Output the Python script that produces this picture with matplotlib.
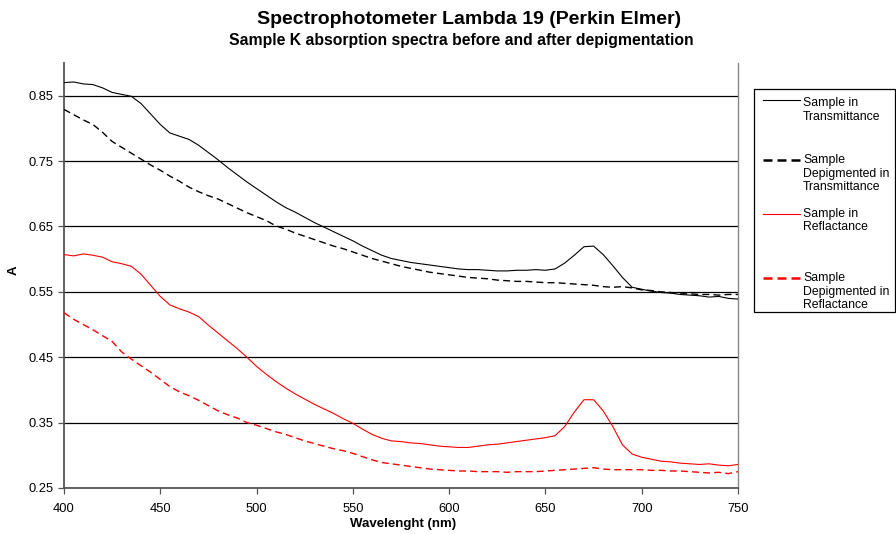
"""
Spectrophotometer Lambda 19 - spectra of sample K before/after depigmentation.
"""
import numpy as np
import matplotlib.pyplot as plt
from matplotlib.lines import Line2D
from matplotlib.patches import Rectangle

plt.rcParams['font.family'] = ['Liberation Sans', 'DejaVu Sans']

# wavelengths, every 5 nm
wl = list(range(400, 755, 5))

trans = [0.870, 0.871, 0.868, 0.867, 0.862, 0.855, 0.852, 0.849, 0.838, 0.822,
         0.806, 0.793, 0.788, 0.783, 0.774, 0.763, 0.752, 0.740, 0.729, 0.718,
         0.708, 0.698, 0.688, 0.679, 0.672, 0.664, 0.656, 0.649, 0.642, 0.635,
         0.628, 0.620, 0.613, 0.606, 0.601, 0.598, 0.595, 0.593, 0.591, 0.589,
         0.587, 0.585, 0.584, 0.584, 0.583, 0.582, 0.582, 0.583, 0.583, 0.584,
         0.583, 0.585, 0.594, 0.606, 0.619, 0.620, 0.607, 0.590, 0.572, 0.557,
         0.554, 0.551, 0.549, 0.548, 0.546, 0.545, 0.544, 0.542, 0.543, 0.540,
         0.539]

trans_depig = [0.829, 0.821, 0.813, 0.806, 0.794, 0.780, 0.771, 0.762, 0.753, 0.744,
               0.736, 0.727, 0.719, 0.710, 0.703, 0.697, 0.692, 0.685, 0.678, 0.671,
               0.665, 0.659, 0.651, 0.646, 0.640, 0.635, 0.630, 0.625, 0.620, 0.616,
               0.611, 0.606, 0.601, 0.597, 0.593, 0.589, 0.586, 0.583, 0.580, 0.578,
               0.576, 0.574, 0.572, 0.571, 0.570, 0.568, 0.567, 0.566, 0.566, 0.565,
               0.564, 0.564, 0.563, 0.562, 0.561, 0.560, 0.558, 0.557, 0.558, 0.556,
               0.553, 0.552, 0.550, 0.549, 0.547, 0.547, 0.546, 0.546, 0.545, 0.546,
               0.546]

refl = [0.607, 0.605, 0.608, 0.606, 0.603, 0.596, 0.593, 0.589, 0.577, 0.560,
        0.543, 0.530, 0.524, 0.519, 0.512, 0.499, 0.487, 0.475, 0.463, 0.450,
        0.436, 0.424, 0.413, 0.403, 0.394, 0.386, 0.378, 0.371, 0.364, 0.356,
        0.349, 0.340, 0.332, 0.326, 0.322, 0.321, 0.319, 0.318, 0.316, 0.314,
        0.313, 0.312, 0.312, 0.314, 0.316, 0.317, 0.319, 0.321, 0.323, 0.325,
        0.327, 0.330, 0.344, 0.366, 0.385, 0.385, 0.368, 0.344, 0.316, 0.302,
        0.297, 0.294, 0.291, 0.290, 0.288, 0.287, 0.286, 0.287, 0.285, 0.284,
        0.286]

refl_depig = [0.518, 0.508, 0.500, 0.492, 0.483, 0.474, 0.458, 0.447, 0.437, 0.427,
              0.416, 0.405, 0.397, 0.391, 0.384, 0.376, 0.368, 0.362, 0.357, 0.350,
              0.346, 0.341, 0.336, 0.332, 0.327, 0.322, 0.318, 0.314, 0.310, 0.307,
              0.303, 0.298, 0.293, 0.289, 0.287, 0.285, 0.283, 0.281, 0.279, 0.278,
              0.277, 0.276, 0.276, 0.275, 0.275, 0.275, 0.274, 0.275, 0.275, 0.275,
              0.276, 0.277, 0.278, 0.279, 0.280, 0.281, 0.279, 0.278, 0.278, 0.278,
              0.278, 0.277, 0.277, 0.276, 0.276, 0.275, 0.274, 0.273, 0.274, 0.272,
              0.275]

labels = ['Sample in\nTransmittance',
          'Sample\nDepigmented in\nTransmittance',
          'Sample in\nReflactance',
          'Sample\nDepigmented in\nReflactance']

yticks = [0.25, 0.35, 0.45, 0.55, 0.65, 0.75, 0.85]

W, H = 896, 534
fig = plt.figure(figsize=(W/100, H/100), dpi=100)
ax = fig.add_axes([64/W, 1-488/H, (738-64)/W, (488-63)/H])

for y in yticks[1:]:
    ax.axhline(y, color='black', lw=0.9, zorder=1)

dash = (0, (5, 3))
styles = [dict(color='black', lw=0.8, ls='-'),
          dict(color='black', lw=1.0, ls=dash),
          dict(color='red', lw=0.8, ls='-'),
          dict(color='red', lw=1.0, ls=dash)]
series = [trans, trans_depig, refl, refl_depig]
for vals, st, lab in zip(series, styles, labels):
    ax.plot(wl, vals, label=lab, zorder=3, **st)

ax.set_xlim(400, 750)
ax.set_ylim(0.25, 0.90)
ax.set_xticks(range(400, 751, 50))
ax.set_yticks(yticks)
ax.set_yticklabels([f'{v:.2f}' for v in yticks])
ax.tick_params(direction='out', length=4, width=0.9, labelsize=9.3, color='#555555')
ax.tick_params(axis='x', pad=7)

ax.spines['top'].set_visible(False)
for s in ['left', 'bottom']:
    ax.spines[s].set_color('#555555')
    ax.spines[s].set_linewidth(1.3)
ax.spines['right'].set_color('#888888')
ax.spines['right'].set_linewidth(1.0)

fig.text(403/W, 1-524/H, 'Wavelenght (nm)', ha='center', va='center',
         fontsize=9.5, fontweight='bold')
fig.text(14/W, 1-270/H, 'A', ha='center', va='center', rotation=90,
         fontsize=9.5, fontweight='bold')

fig.text(469/W, 1-20/H, 'Spectrophotometer Lambda 19 (Perkin Elmer)',
         ha='center', va='center', fontsize=14, fontweight='bold')
fig.text(461/W, 1-41/H, 'Sample K absorption spectra before and after depigmentation',
         ha='center', va='center', fontsize=11.3, fontweight='bold')

# legend box drawn by hand (Excel style: handle level with first text line)
fig.add_artist(Rectangle((754/W, 1-312/H), (895-754)/W, (312-89)/H,
                         transform=fig.transFigure, fill=True, facecolor='white',
                         edgecolor='black', lw=0.9))
first_line_y = [103, 160, 214, 278]
line_pitch = 13.5
for lab, st, y0 in zip(labels, styles, first_line_y):
    hy = y0 - 3 if y0 == first_line_y[0] else y0
    hst = dict(st)
    if hst['ls'] != '-':
        hst.update(lw=1.8, ls=(0, (3.6, 2.0)))
    fig.add_artist(Line2D([763/W, 800/W], [1-hy/H, 1-hy/H],
                          transform=fig.transFigure, **hst))
    for k, part in enumerate(lab.split('\n')):
        fig.text(803/W, 1-(y0 + k*line_pitch)/H, part, ha='left', va='center',
                 fontsize=8.8)

plt.savefig('out.png', dpi=100)
plt.close()
